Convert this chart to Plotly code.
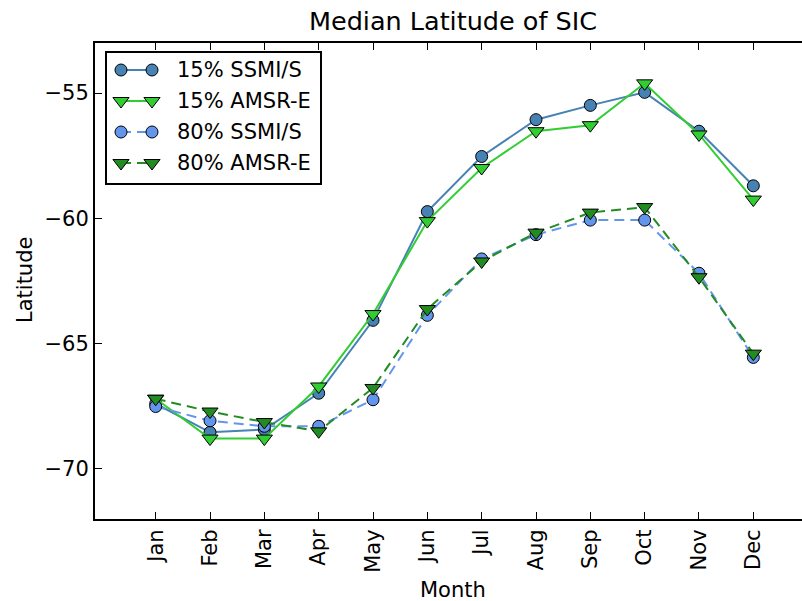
import plotly.graph_objects as go

# Monthly median latitude of the sea-ice concentration edge
months = ["Jan", "Feb", "Mar", "Apr", "May", "Jun",
          "Jul", "Aug", "Sep", "Oct", "Nov", "Dec"]
ssmis_15 = [-67.40, -68.54, -68.43, -66.98, -64.07, -59.73,
            -57.53, -56.06, -55.49, -54.97, -56.52, -58.70]
amsre_15 = [-67.20, -68.79, -68.79, -66.71, -63.82, -60.11,
            -57.99, -56.52, -56.28, -54.61, -56.65, -59.25]
ssmis_80 = [-67.51, -68.08, -68.30, -68.30, -67.24, -63.87,
            -61.62, -60.65, -60.07, -60.07, -62.19, -65.55]
amsre_80 = [-67.20, -67.71, -68.13, -68.50, -66.77, -63.62,
            -61.72, -60.57, -59.77, -59.55, -62.35, -65.40]

series = [
    ("15% SSMI/S", ssmis_15, "#4682B4", "circle", "solid"),
    ("15% AMSR-E", amsre_15, "#32CD32", "triangle-down", "solid"),
    ("80% SSMI/S", ssmis_80, "#6495ED", "circle", "10px,6px"),
    ("80% AMSR-E", amsre_80, "#228B22", "triangle-down", "10px,6px"),
]

FONT = "DejaVu Sans"
FS = 21
W, H = 802, 601
L, R, T, B = 95, 0, 43, 82

fig = go.Figure()
x_idx = list(range(len(months)))

for name, vals, color, sym, dash in series:
    size = 12 if sym == "circle" else 14
    fig.add_trace(go.Scatter(
        x=x_idx, y=vals, name=name, mode="lines+markers",
        line=dict(color=color, width=2, dash=dash),
        marker=dict(symbol=sym, size=size, color=color,
                    line=dict(color="black", width=1)),
        showlegend=False, xaxis="x", yaxis="y",
    ))

# Hand-built legend on an overlay axis measured in pixels
leg_rows = [70, 101, 132, 163]
for (name, vals, color, sym, dash), yy in zip(series, leg_rows):
    size = 12 if sym == "circle" else 14
    fig.add_trace(go.Scatter(
        x=[121, 152], y=[yy, yy], mode="lines+markers",
        line=dict(color=color, width=2, dash=dash),
        marker=dict(symbol=sym, size=size, color=color,
                    line=dict(color="black", width=1)),
        showlegend=False, hoverinfo="skip", xaxis="x2", yaxis="y2",
    ))
    fig.add_annotation(x=175, y=yy, xref="x2", yref="y2", text=name,
                       showarrow=False, xanchor="left", yanchor="middle",
                       font=dict(family=FONT, size=FS, color="black"))

fig.add_shape(type="rect", xref="x2", yref="y2", x0=106, x1=321,
              y0=52, y1=184, line=dict(color="black", width=2),
              fillcolor="white", layer="below")

axis_common = dict(showgrid=False, zeroline=False, showline=True,
                   linecolor="black", linewidth=2, ticks="inside",
                   ticklen=7, tickwidth=1, tickcolor="black",
                   tickfont=dict(family=FONT, size=FS, color="black"))

fig.update_layout(
    width=W, height=H,
    margin=dict(l=L, r=R, t=T, b=B, pad=0),
    paper_bgcolor="white", plot_bgcolor="rgba(0,0,0,0)",
    font=dict(family=FONT, color="black"),
    title=dict(text="Median Latitude of SIC", xref="container",
               x=453 / W, xanchor="center", yref="container",
               y=1 - 21 / H, yanchor="middle",
               font=dict(family=FONT, size=25.5, color="black")),
    xaxis=dict(range=[-1.117, 11.896], tickvals=x_idx, ticktext=months,
               tickangle=-90, mirror="ticks", **axis_common),
    yaxis=dict(range=[-72, -53], tickvals=[-70, -65, -60, -55],
               **axis_common),
    xaxis2=dict(range=[L, W], overlaying="x", visible=False,
                anchor="y2"),
    yaxis2=dict(range=[H - B, T], overlaying="y", visible=False,
                anchor="x2"),
)

fig.add_annotation(text="Latitude", xref="paper", yref="paper",
                   x=(25 - L) / (W - L - R), y=(H - B - 280) / (H - T - B),
                   showarrow=False, textangle=-90, xanchor="center",
                   yanchor="middle",
                   font=dict(family=FONT, size=FS, color="black"))
fig.add_annotation(text="Month", xref="paper", yref="paper",
                   x=(453 - L) / (W - L - R), y=(H - B - 590) / (H - T - B),
                   showarrow=False, xanchor="center", yanchor="middle",
                   font=dict(family=FONT, size=FS, color="black"))

fig.write_html("out.html")
